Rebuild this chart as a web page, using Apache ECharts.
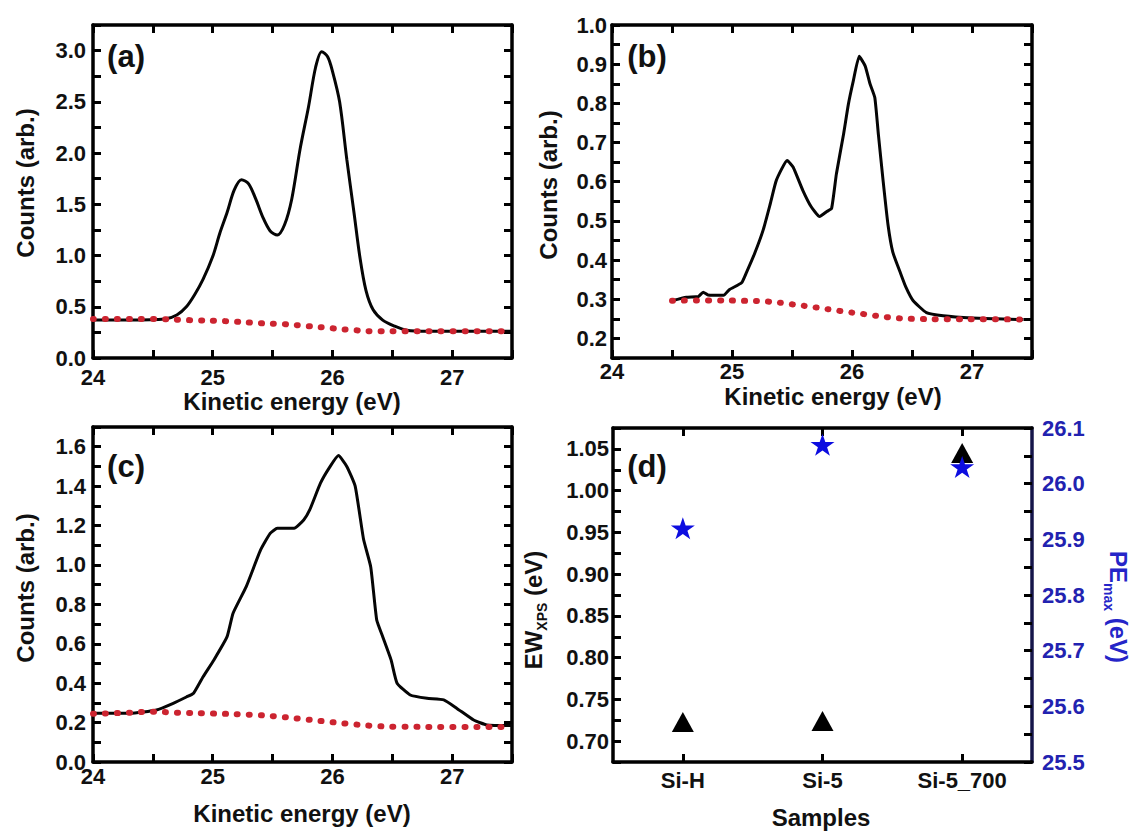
<!DOCTYPE html>
<html>
<head>
<meta charset="utf-8">
<script src="https://cdn.jsdelivr.net/npm/echarts@6/dist/echarts.min.js"></script>
<style>
html,body{margin:0;padding:0;background:#fff;}
#c{width:1133px;height:832px;}
</style>
</head>
<body>
<div id="c"></div>
<script>
// ---------- data ----------
// panel (a)
const aX = [24.0, 24.3, 24.6, 24.7, 24.78, 24.85, 24.92, 25.0, 25.06, 25.12, 25.18, 25.24, 25.3, 25.36, 25.42, 25.48, 25.54, 25.6, 25.66, 25.73, 25.8, 25.86, 25.91, 25.96, 26.0, 26.06, 26.12, 26.18, 26.23, 26.28, 26.34, 26.42, 26.52, 26.62, 26.8, 27.1, 27.5];
const aY = [0.37, 0.37, 0.38, 0.42, 0.5, 0.62, 0.77, 0.99, 1.22, 1.42, 1.64, 1.74, 1.70, 1.55, 1.37, 1.24, 1.20, 1.30, 1.55, 2.04, 2.45, 2.84, 2.99, 2.94, 2.80, 2.50, 1.94, 1.42, 0.98, 0.66, 0.47, 0.37, 0.31, 0.27, 0.26, 0.26, 0.26];
const aBgX = [24.0, 24.5, 24.8, 25.1, 25.4, 25.6, 25.8, 26.0, 26.2, 26.4, 26.6, 27.0, 27.5];
const aBgY = [0.38, 0.38, 0.37, 0.36, 0.34, 0.33, 0.31, 0.29, 0.27, 0.26, 0.26, 0.26, 0.26];
// panel (b)
const bX = [24.5, 24.62, 24.72, 24.76, 24.8, 24.93, 24.98, 25.08, 25.12, 25.19, 25.26, 25.32, 25.37, 25.46, 25.51, 25.59, 25.66, 25.73, 25.79, 25.83, 25.87, 25.93, 25.97, 26.01, 26.06, 26.11, 26.15, 26.19, 26.22, 26.26, 26.3, 26.34, 26.4, 26.45, 26.51, 26.62, 26.76, 27.0, 27.2, 27.43];
const bY = [0.296, 0.305, 0.307, 0.318, 0.311, 0.31, 0.325, 0.342, 0.368, 0.418, 0.477, 0.545, 0.604, 0.654, 0.637, 0.578, 0.536, 0.511, 0.524, 0.532, 0.62, 0.722, 0.798, 0.856, 0.92, 0.895, 0.85, 0.815, 0.72, 0.6, 0.49, 0.42, 0.37, 0.33, 0.296, 0.266, 0.258, 0.252, 0.25, 0.248];
const bBgX = [24.5, 24.8, 25.1, 25.3, 25.5, 25.7, 25.9, 26.1, 26.3, 26.5, 26.8, 27.1, 27.43];
const bBgY = [0.296, 0.297, 0.296, 0.294, 0.287, 0.279, 0.27, 0.262, 0.254, 0.25, 0.249, 0.249, 0.248];
// panel (c)
const cX = [24.0, 24.31, 24.53, 24.67, 24.78, 24.84, 24.92, 25.01, 25.12, 25.17, 25.28, 25.4, 25.48, 25.54, 25.68, 25.76, 25.81, 25.9, 25.98, 26.05, 26.12, 26.19, 26.26, 26.32, 26.37, 26.42, 26.49, 26.54, 26.65, 26.79, 26.93, 27.04, 27.18, 27.29, 27.5];
const cY = [0.247, 0.247, 0.264, 0.298, 0.33, 0.349, 0.433, 0.518, 0.636, 0.755, 0.89, 1.076, 1.16, 1.186, 1.186, 1.228, 1.279, 1.415, 1.499, 1.555, 1.5, 1.4, 1.13, 0.99, 0.72, 0.636, 0.518, 0.40, 0.34, 0.323, 0.315, 0.272, 0.213, 0.188, 0.185];
const cBgX = [24.0, 24.3, 24.5, 24.7, 25.0, 25.35, 25.55, 25.75, 25.95, 26.15, 26.35, 26.55, 27.0, 27.5];
const cBgY = [0.245, 0.25, 0.255, 0.25, 0.246, 0.239, 0.23, 0.218, 0.205, 0.193, 0.183, 0.179, 0.178, 0.178];
// panel (d)
const samples = ['Si-H', 'Si-5', 'Si-5_700'];
const ewXps = [0.723, 0.724, 1.045];
const peMax = [25.92, 26.07, 26.03];

// tick labels
const keLabels = [24, 25, 26, 27];
const aYLabels = [0, 0.5, 1.0, 1.5, 2.0, 2.5, 3.0];
const bYLabels = [0.2, 0.3, 0.4, 0.5, 0.6, 0.7, 0.8, 0.9, 1.0];
const cYLabels = [0, 0.2, 0.4, 0.6, 0.8, 1.0, 1.2, 1.4, 1.6];
const ewLabels = [0.70, 0.75, 0.80, 0.85, 0.90, 0.95, 1.00, 1.05];
const peLabels = [25.5, 25.6, 25.7, 25.8, 25.9, 26.0, 26.1];

// ---------- style ----------
const FONT = "'Liberation Sans', Arial, Helvetica, sans-serif";
const BLUE_TXT = '#2222b0';
const zip = (xs, ys) => xs.map((x, i) => [x, ys[i]]);

function valAxis(o) {
  return {
    type: 'value', gridIndex: o.grid, position: o.pos, min: o.min, max: o.max, interval: o.step,
    axisLine: { show: true, onZero: false, lineStyle: { color: o.lineColor || '#000', width: 3.5 } },
    axisTick: { show: true, inside: true, length: 8, lineStyle: { color: '#000', width: 3 } },
    axisLabel: o.labels ? {
      show: true, customValues: o.labels, margin: o.margin,
      formatter: v => Number(v).toFixed(o.dec),
      fontFamily: FONT, fontWeight: 'bold', fontSize: 22, color: o.labelColor || '#111'
    } : { show: false },
    splitLine: { show: false }
  };
}

const xAxis = [
  valAxis({ grid: 0, pos: 'bottom', min: 24, max: 27.5, step: 0.5, labels: keLabels, dec: 0, margin: 8 }),
  valAxis({ grid: 0, pos: 'top', min: 24, max: 27.5, step: 0.5 }),
  valAxis({ grid: 1, pos: 'bottom', min: 24, max: 27.5, step: 0.5, labels: keLabels, dec: 0, margin: 2 }),
  valAxis({ grid: 1, pos: 'top', min: 24, max: 27.5, step: 0.5 }),
  valAxis({ grid: 2, pos: 'bottom', min: 24, max: 27.5, step: 0.5, labels: keLabels, dec: 0, margin: 3 }),
  valAxis({ grid: 2, pos: 'top', min: 24, max: 27.5, step: 0.5 }),
  {
    type: 'category', gridIndex: 3, position: 'bottom', data: samples, boundaryGap: true,
    axisLine: { show: true, lineStyle: { color: '#000', width: 3.5 } },
    axisTick: { show: true, inside: true, alignWithLabel: true, length: 8, lineStyle: { color: '#000', width: 3 } },
    axisLabel: { show: true, margin: 7, fontFamily: FONT, fontWeight: 'bold', fontSize: 22, color: '#111' },
    splitLine: { show: false }
  },
  {
    type: 'category', gridIndex: 3, position: 'top', data: samples, boundaryGap: true,
    axisLine: { show: true, lineStyle: { color: '#000', width: 3.5 } },
    axisTick: { show: true, inside: true, alignWithLabel: true, length: 8, lineStyle: { color: '#000', width: 3 } },
    axisLabel: { show: false }, splitLine: { show: false }
  }
];

const yAxis = [
  valAxis({ grid: 0, pos: 'left', min: 0, max: 3.25, step: 0.25, labels: aYLabels, dec: 1, margin: 7 }),
  valAxis({ grid: 0, pos: 'right', min: 0, max: 3.25, step: 0.25 }),
  valAxis({ grid: 1, pos: 'left', min: 0.15, max: 1.0, step: 0.05, labels: bYLabels, dec: 1, margin: 5 }),
  valAxis({ grid: 1, pos: 'right', min: 0.15, max: 1.0, step: 0.05 }),
  valAxis({ grid: 2, pos: 'left', min: 0, max: 1.7, step: 0.1, labels: cYLabels, dec: 1, margin: 7 }),
  valAxis({ grid: 2, pos: 'right', min: 0, max: 1.7, step: 0.1 }),
  valAxis({ grid: 3, pos: 'left', min: 0.675, max: 1.075, step: 0.025, labels: ewLabels, dec: 2, margin: 4 }),
  valAxis({ grid: 3, pos: 'right', min: 25.5, max: 26.1, step: 0.05, labels: peLabels, dec: 1, margin: 10, lineColor: '#15154a', labelColor: BLUE_TXT })
];

function curve(xi, yi, xs, ys, smooth) {
  return {
    type: 'line', xAxisIndex: xi, yAxisIndex: yi, data: zip(xs, ys), showSymbol: false, symbol: 'none',
    smooth: smooth, lineStyle: { color: '#050505', width: 3 }, z: 3, silent: true
  };
}
function bg(xi, yi, xs, ys) {
  return {
    type: 'line', xAxisIndex: xi, yAxisIndex: yi, data: zip(xs, ys), showSymbol: false, symbol: 'none',
    smooth: true, lineStyle: { color: '#cc2430', width: 6, type: [1, 11], cap: 'round' }, z: 4, silent: true
  };
}

const STAR = 'path://M50,0 L61.2,34.5 L97.6,34.5 L68.2,55.9 L79.4,90.5 L50,69.1 L20.6,90.5 L31.8,55.9 L2.4,34.5 L38.8,34.5 Z';

const series = [
  curve(0, 0, aX, aY, 0.3), bg(0, 0, aBgX, aBgY),
  curve(2, 2, bX, bY, 0.15), bg(2, 2, bBgX, bBgY),
  curve(4, 4, cX, cY, 0.15), bg(4, 4, cBgX, cBgY),
  {
    type: 'scatter', xAxisIndex: 6, yAxisIndex: 6, data: ewXps, symbol: 'triangle', symbolSize: [22, 20],
    itemStyle: { color: '#000', opacity: 1 }, z: 5
  },
  {
    type: 'scatter', xAxisIndex: 6, yAxisIndex: 7, data: peMax, symbol: STAR, symbolSize: [24, 22],
    itemStyle: { color: '#0d0de0', opacity: 1 }, z: 6
  }
];

const grid = [
  { left: 93, top: 25, width: 419, height: 333 },
  { left: 612, top: 25, width: 420, height: 333 },
  { left: 93, top: 427, width: 419, height: 335 },
  { left: 613, top: 428, width: 419, height: 334 }
];

function txt(x, y, text, size, rot, color) {
  return {
    type: 'text', x: x, y: y, rotation: rot || 0, silent: true,
    style: { text: text, fontFamily: FONT, fontWeight: 'bold', fontSize: size, fill: color || '#111', align: 'center', verticalAlign: 'middle' }
  };
}
function richTxt(x, y, main, sub, rest, rot, color) {
  return {
    type: 'text', x: x, y: y, rotation: rot, silent: true,
    style: {
      text: '{n|' + main + '}{s|' + sub + '}{n|' + rest + '}',
      align: 'center', verticalAlign: 'middle',
      rich: {
        n: { fontFamily: FONT, fontWeight: 'bold', fontSize: 24, lineHeight: 28, fill: color, verticalAlign: 'top' },
        s: { fontFamily: FONT, fontWeight: 'bold', fontSize: 14, lineHeight: 14, fill: color, verticalAlign: 'bottom' }
      }
    }
  };
}

const graphic = [
  txt(126, 56, '(a)', 31), txt(647, 56, '(b)', 31), txt(126, 466, '(c)', 31), txt(647, 466, '(d)', 31),
  txt(292, 401, 'Kinetic energy (eV)', 24), txt(833, 396, 'Kinetic energy (eV)', 24),
  txt(302, 813, 'Kinetic energy (eV)', 24), txt(821, 817, 'Samples', 24),
  txt(25, 183, 'Counts (arb.)', 24, Math.PI / 2), txt(548, 185, 'Counts (arb.)', 24, Math.PI / 2),
  txt(25, 588, 'Counts (arb.)', 24, Math.PI / 2),
  richTxt(535, 610, 'EW', 'XPS', ' (eV)', Math.PI / 2, '#111'),
  richTxt(1116, 607, 'PE', 'max', ' (eV)', -Math.PI / 2, '#2525c8')
];

const chart = echarts.init(document.getElementById('c'), null, { renderer: 'svg', width: 1133, height: 832 });
chart.setOption({
  animation: false, backgroundColor: '#fff',
  grid: grid, xAxis: xAxis, yAxis: yAxis, series: series,
  graphic: graphic
});
</script>
</body>
</html>
